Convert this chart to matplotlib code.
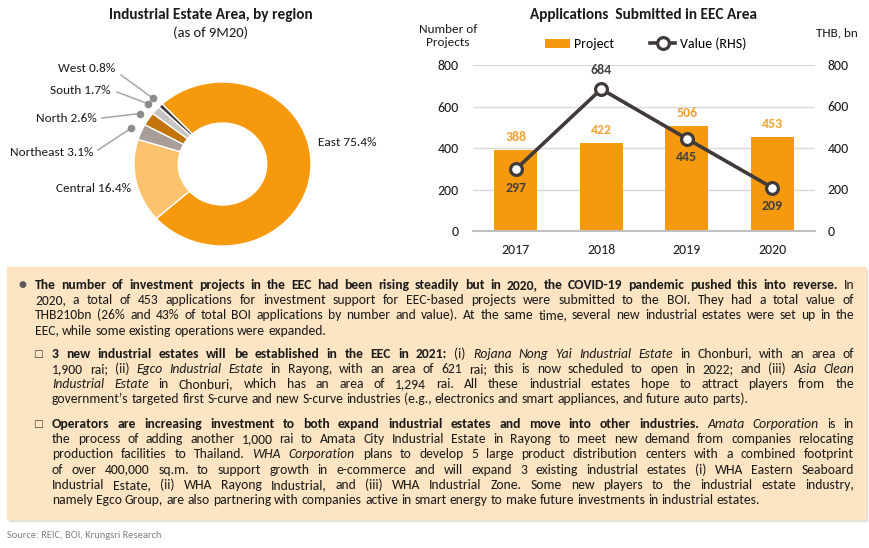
import matplotlib
matplotlib.use('Agg')
import matplotlib.pyplot as plt
from matplotlib import font_manager
from matplotlib.patches import Rectangle
import numpy as np

# ---------------- data ----------------
regions = ['East', 'Central', 'Northeast', 'North', 'South', 'West']
shares = [75.4, 16.4, 3.1, 2.6, 1.7, 0.8]
region_colors = ['#F7990D', '#FCC36E', '#A89D98', '#C27409', '#C9C4C2', '#3E3836']

years = ['2017', '2018', '2019', '2020']
projects = [388, 422, 506, 453]
values = [297, 684, 445, 209]
yticks = [0, 200, 400, 600, 800]

W, H = 870, 548
avail = set(f.name for f in font_manager.fontManager.ttflist)
FONT = next(f for f in ['Carlito', 'Calibri', 'Lato', 'Open Sans', 'DejaVu Sans'] if f in avail)
plt.rcParams['font.family'] = [FONT, 'DejaVu Sans']
TXT = '#1A1A1A'

fig = plt.figure(figsize=(W / 100, H / 100), dpi=100)
fig.patch.set_facecolor('white')

ov = fig.add_axes([0, 0, 1, 1], zorder=0)
ov.set_xlim(0, W)
ov.set_ylim(H, 0)
ov.axis('off')
ov.patch.set_alpha(0)

# ---------------- donut ----------------
cx, cy, rx, ry = 222.5, 164, 88.5, 82
pax = fig.add_axes([(cx - rx) / W, 1 - (cy + ry) / H, 2 * rx / W, 2 * ry / H], zorder=2)
wedges, _ = pax.pie(shares, colors=region_colors, startangle=133, counterclock=False,
                    radius=1, wedgeprops=dict(width=0.5, edgecolor='white', linewidth=1.0))
pax.set_aspect('auto')
pax.set_xlim(-1, 1)
pax.set_ylim(-1, 1)
pax.axis('off')

ov.text(211, 15, 'Industrial Estate Area, by region', ha='center', va='center',
        fontsize=11, fontweight='bold', color=TXT)
ov.text(211, 33, '(as of 9M20)', ha='center', va='center', fontsize=10.5, color=TXT)

label_pos = {'East': (318, 143, 'left'), 'Central': (131, 189, 'right'),
             'Northeast': (93, 152, 'right'), 'North': (97, 118, 'right'),
             'South': (111, 90, 'right'), 'West': (115, 69, 'right')}
leader_start = {'Northeast': (98, 150), 'North': (102, 118), 'South': (117, 92), 'West': (121, 75)}

fig.canvas.draw()
for name, val, w in zip(regions, shares, wedges):
    lx, ly, ha = label_pos[name]
    ov.text(lx, ly, f'{name} {val}%', ha=ha, va='center', fontsize=9.5, color=TXT)
    if name in leader_start:
        th = np.deg2rad((w.theta1 + w.theta2) / 2)
        dx, dy = pax.transData.transform((1.12 * np.cos(th), 1.12 * np.sin(th)))
        dy = H - dy
        sx, sy = leader_start[name]
        ov.plot([sx, dx], [sy, dy], color='#A6A6A6', lw=1.1, zorder=3)
        ov.plot([dx], [dy], 'o', color='#8C8C8C', ms=4.5, zorder=4)

# ---------------- bar + line ----------------
bax = fig.add_axes([473 / W, 1 - 231 / H, 342 / W, 166 / H], zorder=2)
x = np.arange(len(years))
bars = bax.bar(x, projects, width=0.5, color='#F7990D', zorder=2)
bax.set_xlim(-0.5, len(years) - 0.5)
bax.set_ylim(0, 800)
bax.set_yticks(yticks)
bax.set_xticks(x, years)
bax.grid(axis='y', color='#D9D9D9', lw=1, zorder=0)
bax.set_axisbelow(True)
for s in ['top', 'left', 'right']:
    bax.spines[s].set_visible(False)
bax.spines['bottom'].set_color('#BFBFBF')
bax.spines['bottom'].set_linewidth(1.5)
bax.tick_params(axis='y', length=0, labelsize=10, pad=10, labelcolor=TXT)
bax.tick_params(axis='x', length=0, labelsize=10, pad=9, labelcolor=TXT)

lax = bax.twinx()
lax.set_ylim(0, 800)
lax.set_yticks(yticks)
for s in ['top', 'left', 'right', 'bottom']:
    lax.spines[s].set_visible(False)
lax.tick_params(axis='y', length=0, labelsize=10, pad=9, labelcolor=TXT)
line, = lax.plot(x, values, color='#403A38', lw=2.6, marker='o', ms=8.5,
                 mfc='white', mec='#403A38', mew=2.3, zorder=3)

for xi, v in zip(x, projects):
    bax.annotate(str(v), (xi, v), xytext=(0, 9.5), textcoords='offset points',
                 ha='center', va='center', color='#F2A234', fontweight='bold', fontsize=10)
val_side = [-1, 1, -1, -1]
for xi, v, sd in zip(x, values, val_side):
    lax.annotate(str(v), (xi, v), xytext=(0, 13.5 * sd), textcoords='offset points',
                 ha='center', va='center', color='#404040', fontweight='bold', fontsize=10)

ov.text(644, 15, 'Applications  Submitted in EEC Area', ha='center', va='center',
        fontsize=11, fontweight='bold', color=TXT)
ov.text(448, 36, 'Number of\nProjects', ha='center', va='center', fontsize=9.5,
        color=TXT, linespacing=1.15)
ov.text(837, 33, 'THB, bn', ha='center', va='center', fontsize=9.5, color=TXT)
bax.legend([bars, line], ['Project', 'Value (RHS)'], loc='center',
           bbox_to_anchor=(645.5 / W, 1 - 44 / H), bbox_transform=fig.transFigure,
           ncol=2, frameon=False, handlelength=1.8, handletextpad=0.3,
           columnspacing=2.6, fontsize=10)

# ---------------- text box ----------------
ov.add_patch(Rectangle((9, 269), 858, 252, color='#E3E0DC', zorder=0))
ov.add_patch(Rectangle((7, 267), 858, 252, color='#FDE4C2', zorder=1))

para1 = [
    [("The number of investment projects in the EEC had been rising steadily but in 2020, the COVID-19 pandemic pushed this into reverse.", 'b'), ("In", 'r')],
    [("2020, a total of 453 applications for investment support for EEC-based projects were submitted to the BOI. They had a total value of", 'r')],
    [("THB210bn (26% and 43% of total BOI applications by number and value). At the same time, several new industrial estates were set up in the", 'r')],
    [("EEC, while some existing operations were expanded.", 'r')],
]
para2 = [
    [("3 new industrial estates will be established in the EEC in 2021:", 'b'), ("(i)", 'r'), ("Rojana Nong Yai Industrial Estate", 'i'), ("in Chonburi, with an area of", 'r')],
    [("1,900 rai; (ii)", 'r'), ("Egco Industrial Estate", 'i'), ("in Rayong, with an area of 621 rai; this is now scheduled to open in 2022; and (iii)", 'r'), ("Asia Clean", 'i')],
    [("Industrial Estate", 'i'), ("in Chonburi, which has an area of 1,294 rai. All these industrial estates hope to attract players from the", 'r')],
    [("government\u2019s targeted first S-curve and new S-curve industries (e.g., electronics and smart appliances, and future auto parts).", 'r')],
]
para3 = [
    [("Operators are increasing investment to both expand industrial estates and move into other industries.", 'b'), ("Amata Corporation", 'i'), ("is in", 'r')],
    [("the process of adding another 1,000 rai to Amata City Industrial Estate in Rayong to meet new demand from companies relocating", 'r')],
    [("production facilities to Thailand.", 'r'), ("WHA Corporation", 'i'), ("plans to develop 5 large product distribution centers with a combined footprint", 'r')],
    [("of over 400,000 sq.m. to support growth in e-commerce and will expand 3 existing industrial estates (i) WHA Eastern Seaboard", 'r')],
    [("Industrial Estate, (ii) WHA Rayong Industrial, and (iii) WHA Industrial Zone. Some new players to the industrial estate industry,", 'r')],
    [("namely Egco Group, are also partnering with companies active in smart energy to make future investments in industrial estates.", 'r')],
]
blocks = [(para1, 35, 285.0), (para2, 52, 353.5), (para3, 52, 424.0)]
XR = 854
LS = 15.2


def props(st, size):
    d = dict(fontsize=size, color=TXT)
    if st == 'b':
        d['fontweight'] = 'bold'
    if st == 'i':
        d['fontstyle'] = 'italic'
    return d


renderer = fig.canvas.get_renderer()
cache = {}


def measure(word, st, size):
    key = (word, st, round(size, 3))
    if key not in cache:
        t = ov.text(0, 0, word, **props(st, size))
        cache[key] = t.get_window_extent(renderer).width
        t.remove()
    return cache[key]


def words_of(runs):
    out = []
    for txt, st in runs:
        for w in txt.split():
            out.append((w, st))
    return out


def space(size):
    return measure('a a', 'r', size) - measure('aa', 'r', size)


def natural(ws, size, bsize, sp):
    return sum(measure(w, s, bsize if s == 'b' else size) for w, s in ws) + sp * (len(ws) - 1)


# fit the body size on the lines without bold runs
size = 9.8
while size > 6:
    sp = space(size)
    ok = True
    for para, x0, _ in blocks:
        for ln in para[:-1]:
            ws = words_of(ln)
            if any(s == 'b' for _, s in ws):
                continue
            if natural(ws, size, size, sp) > XR - x0:
                ok = False
    if ok:
        break
    size = round(size - 0.1, 2)
sp = space(size)

# bold size: largest that fits the bold lines
bsize = size
while bsize > 5:
    ok = True
    for para, x0, _ in blocks:
        for ln in para[:-1]:
            ws = words_of(ln)
            if any(s == 'b' for _, s in ws):
                if natural(ws, size, bsize, sp * 0.85) > XR - x0:
                    ok = False
    if ok:
        break
    bsize = round(bsize - 0.1, 2)

for para, x0, y0 in blocks:
    for i, ln in enumerate(para):
        ws = words_of(ln)
        sizes = [bsize if s == 'b' else size for _, s in ws]
        wd = [measure(w, s, z) for (w, s), z in zip(ws, sizes)]
        last = i == len(para) - 1
        gap = sp if last else (XR - x0 - sum(wd)) / (len(ws) - 1)
        xx = x0
        yb = y0 + i * LS + 4
        for (w, s), d, z in zip(ws, wd, sizes):
            ov.text(xx, yb, w, ha='left', va='baseline', zorder=5, **props(s, z))
            xx += d + gap

ov.text(22, 285, '\u25cf', ha='center', va='center', fontsize=6.5, color='#595959',
        family='DejaVu Sans', zorder=5)
for _, _, y0 in blocks[1:]:
    ov.text(38, y0 + 0.5, '\u25a1', ha='center', va='center', fontsize=7.5, color='#404040',
            family='DejaVu Sans', zorder=5)

ov.text(7, 535, 'Source: REIC, BOI, Krungsri Research', ha='left', va='center',
        fontsize=7.5, color='#808080')

fig.savefig('out.png', dpi=100)
